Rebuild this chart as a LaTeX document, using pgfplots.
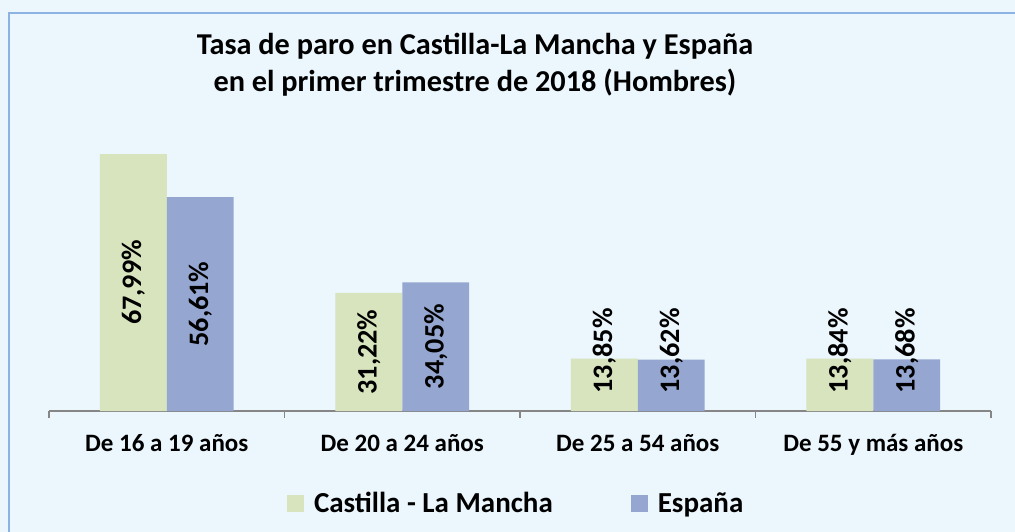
\documentclass[border=0pt]{standalone}
\usepackage{fontspec}
\setmainfont{Carlito}
\usepackage{pgfplots}
\pgfplotsset{compat=1.18}

\definecolor{bgblue}{HTML}{EBF6FD}
\definecolor{frameblue}{HTML}{8DB3E2}
\definecolor{clm}{HTML}{D7E4BD}
\definecolor{esp}{HTML}{95A7D1}
\definecolor{axisgray}{HTML}{868686}

\begin{document}
\begin{tikzpicture}
\useasboundingbox (0,0) rectangle (507.5pt,265.5pt);
\clip (0,0) rectangle (507.5pt,265.5pt);
\fill[bgblue] (-2pt,-2pt) rectangle (510pt,268pt);
\draw[frameblue, line width=1pt] (4.5pt,-2pt) -- (4.5pt,259pt) -- (510pt,259pt);

% title, two lines
\node[font=\bfseries\fontsize{15.15}{18}\selectfont, anchor=base, inner sep=0pt]
  at (237.5pt,238pt) {Tasa de paro en Castilla-La Mancha y España};
\node[font=\bfseries\fontsize{15.15}{18}\selectfont, anchor=base, inner sep=0pt]
  at (237.5pt,219.5pt) {en el primer trimestre de 2018 (Hombres)};

\begin{axis}[
  at={(24.5pt,60pt)}, anchor=south west,
  scale only axis,
  width=471pt, height=141.75pt,
  xmin=-0.5, xmax=3.5,
  ymin=0, ymax=75,
  axis x line*=bottom,
  axis y line=none,
  x axis line style={axisgray, line width=0.9pt},
  xtick={0,1,2,3},
  xticklabels={De 16 a 19 años, De 20 a 24 años, De 25 a 54 años, De 55 y más años},
  major tick length=0pt,
  minor xtick={-0.5,0.5,1.5,2.5,3.5},
  minor tick length=3.5pt,
  xtick align=outside,
  minor tick style={axisgray, line width=0.9pt},
  xticklabel style={font=\bfseries\fontsize{12.5}{15}\selectfont, anchor=base, yshift=-20pt},
  ytick=\empty,
  clip=false,
  legend columns=2,
  legend style={at={(0.497,-0.328)}, anchor=center, draw=none, fill=none,
    font=\bfseries\fontsize{14.5}{17}\selectfont,
    /tikz/every odd column/.append style={column sep=3pt},
    /tikz/every even column/.append style={column sep=37pt}},
  legend image code/.code={\fill[#1, draw=none] (0pt,-4.25pt) rectangle (8.5pt,4.25pt);},
]
\addplot[ybar, bar width=0.284, bar shift=-0.142, fill=clm, draw=none]
  coordinates {(0,67.99) (1,31.22) (2,13.85) (3,13.84)};
\addlegendentry{Castilla - La Mancha}
\addplot[ybar, bar width=0.284, bar shift=0.142, fill=esp, draw=none]
  coordinates {(0,56.61) (1,34.05) (2,13.62) (3,13.68)};
\addlegendentry{España}

% data labels, centred in the bars (kept clear of the axis on short bars)
\addplot[draw=none, forget plot, nodes near coords,
  point meta=explicit symbolic,
  every node near coord/.style={rotate=90, anchor=center,
    font=\bfseries\fontsize{14.1}{16}\selectfont, text=black}]
  table[meta=lab] {
x      y     lab
-0.142 34.0  {67,99\%}
0.858  15.61 {31,22\%}
1.858  15.9  {13,85\%}
2.858  15.9  {13,84\%}
0.142  28.3  {56,61\%}
1.142  17.03 {34,05\%}
2.142  15.9  {13,62\%}
3.142  15.9  {13,68\%}
};
\end{axis}
\end{tikzpicture}
\end{document}
